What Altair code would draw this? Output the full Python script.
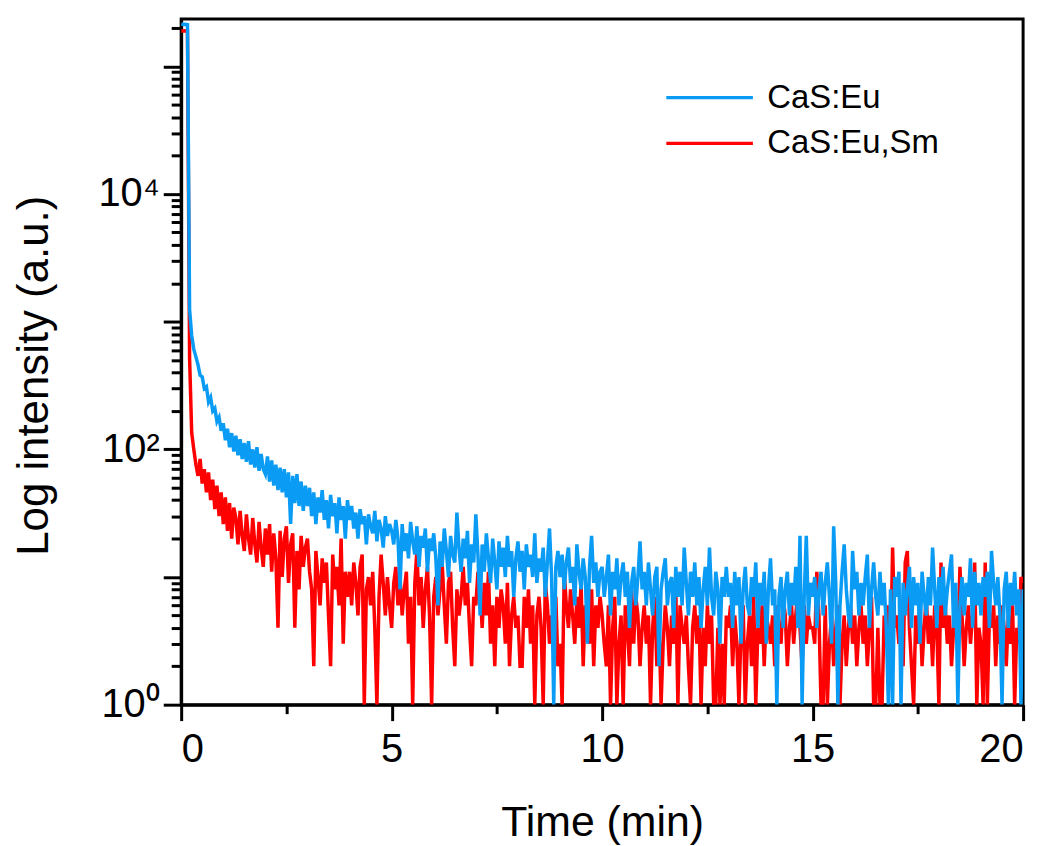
import altair as alt
import pandas as pd

STEP = 0.05  # minutes between samples

# CaS:Eu (blue) intensity counts, one row per minute of samples
blue = [
    215000, 213000, 214000, 212000, 1250, 780, 610, 530, 460, 380, 370, 300, 310, 235, 255, 200, 210, 165, 178, 140,
    160, 118, 145, 104, 134, 96, 128, 90, 120, 84, 112, 80, 116, 76, 100, 72, 104, 68, 92, 70,
    64, 88, 56, 82, 52, 76, 48, 72, 46, 70, 42, 66, 26, 62, 38, 64, 36, 56, 33, 52,
    36, 50, 30, 46, 26, 42, 32, 48, 28, 40, 24, 44, 30, 38, 22, 42, 28, 36, 20, 40,
    28, 36, 24, 32, 20, 34, 26, 30, 18, 31, 25, 22, 33, 19, 28, 24, 17, 30, 21, 26,
    23, 18, 28, 20, 8, 26, 16, 22, 14, 27, 19, 15, 25, 12, 21, 17, 24, 11, 20, 16,
    22, 14, 6, 19, 12, 24, 16, 10, 21, 15, 13, 32, 17, 11, 20, 14, 23, 9, 18, 13,
    31, 15, 5, 18, 11, 22, 14, 9, 20, 13, 8, 19, 12, 17, 10, 21, 12, 16, 7, 14,
    19, 11, 16, 8, 18, 12, 15, 10, 22, 9, 14, 11, 17, 7, 13, 24, 10, 1, 12, 16,
    10, 15, 8, 13, 17, 9, 12, 6, 18, 11, 8, 14, 10, 3, 12, 21, 9, 13, 7, 11,
    12, 7, 10, 15, 5, 11, 8, 14, 6, 10, 13, 7, 11, 4, 9, 12, 6, 10, 19, 8,
    11, 6, 13, 8, 5, 10, 12, 2, 8, 11, 14, 6, 9, 10, 4, 12, 7, 11, 6, 17,
    9, 5, 11, 7, 13, 6, 10, 4, 8, 12, 6, 17, 7, 5, 11, 8, 3, 10, 7, 12,
    7, 9, 4, 11, 6, 10, 3, 8, 12, 6, 5, 10, 7, 13, 4, 9, 6, 11, 3, 8,
    14, 6, 8, 1, 7, 10, 4, 8, 11, 5, 9, 6, 12, 4, 21, 1, 7, 21, 5, 9,
    7, 10, 4, 8, 11, 5, 9, 13, 7, 3, 25, 9, 1, 6, 11, 18, 8, 5, 4, 16,
    8, 11, 5, 9, 6, 10, 15, 4, 8, 13, 7, 5, 11, 6, 9, 4, 1, 8, 1, 10,
    7, 11, 1, 9, 5, 8, 12, 4, 10, 6, 9, 3, 11, 7, 5, 10, 6, 17, 8, 4,
    10, 6, 12, 5, 8, 11, 15, 4, 9, 1, 6, 10, 5, 9, 7, 14, 4, 11, 6, 9,
    5, 10, 7, 11, 4, 16, 9, 6, 10, 5, 1, 8, 11, 4, 9, 6, 11, 5, 8, 1,
    8,
]

# CaS:Eu,Sm (red) intensity counts
red = [
    190000, 189000, 190000, 188000, 520, 135, 100, 76, 62, 84, 54, 70, 46, 66, 40, 58, 34, 52, 30, 46,
    26, 42, 23, 38, 20, 35, 29, 18, 33, 21, 16, 31, 20, 15, 29, 18, 13, 27, 17, 12,
    24, 15, 26, 11, 22, 14, 4, 23, 10, 20, 25, 9, 18, 22, 4, 16, 8, 21, 12, 17,
    20, 11, 8, 2, 16, 10, 6, 14, 9, 13, 5, 2, 15, 8, 12, 6, 20, 3, 11, 7,
    11, 6, 13, 9, 5, 12, 15, 1, 8, 10, 6, 11, 4, 1, 7, 15, 9, 5, 10, 6,
    4, 9, 12, 6, 10, 5, 8, 11, 3, 7, 1, 9, 16, 6, 10, 4, 8, 12, 5, 1,
    7, 10, 5, 8, 13, 6, 3, 9, 11, 4, 2, 8, 5, 7, 12, 6, 9, 4, 2, 7,
    6, 11, 8, 4, 9, 5, 11, 3, 6, 2, 7, 4, 8, 6, 3, 9, 2, 5, 7, 4,
    5, 2, 2, 7, 4, 8, 3, 6, 1, 5, 7, 4, 1, 9, 6, 3, 5, 4, 7, 2,
    3, 1, 11, 6, 4, 8, 5, 3, 7, 4, 9, 2, 6, 5, 3, 8, 2, 6, 4, 7,
    5, 3, 2, 6, 1, 4, 7, 1, 3, 5, 1, 6, 4, 2, 8, 3, 7, 5, 2, 4,
    6, 3, 5, 1, 4, 7, 2, 5, 1, 3, 6, 4, 2, 5, 3, 8, 1, 6, 4, 3,
    5, 2, 1, 4, 6, 3, 5, 1, 4, 2, 6, 3, 5, 1, 1, 4, 1, 3, 1, 5,
    4, 6, 2, 5, 3, 1, 4, 6, 1, 3, 5, 2, 7, 1, 4, 3, 6, 2, 5, 4,
    3, 5, 2, 6, 4, 3, 7, 5, 2, 4, 6, 3, 5, 8, 4, 2, 6, 3, 5, 4,
    4, 3, 11, 5, 1, 1, 6, 1, 3, 5, 2, 4, 6, 1, 3, 5, 2, 4, 6, 3,
    5, 2, 4, 6, 3, 5, 2, 4, 7, 1, 1, 4, 1, 1, 5, 3, 6, 2, 17, 4,
    5, 3, 6, 2, 13, 16, 4, 2, 1, 5, 3, 6, 2, 4, 7, 3, 5, 2, 6, 4,
    1, 13, 4, 6, 3, 5, 2, 4, 6, 3, 12, 5, 2, 4, 6, 3, 5, 13, 1, 4,
    3, 1, 13, 1, 5, 4, 6, 2, 5, 3, 6, 4, 2, 5, 3, 6, 1, 4, 3, 10,
    9,
]

series_names = ["CaS:Eu", "CaS:Eu,Sm"]
series_colors = ["#0A9BF5", "#FF0000"]

x_major = [0, 5, 10, 15, 20]
x_minor = [2.5, 7.5, 12.5, 17.5]
y_major = [1, 10, 100, 1000, 10000, 100000]
y_minor = [m * d for d in [1, 10, 100, 1000, 10000, 100000] for m in range(2, 10) if m * d <= 200000]
y_labels = {1: "10⁰", 100: "10²", 10000: "10⁴"}

rows = []
for name, vals in zip(series_names, [blue, red]):
    for i, v in enumerate(vals):
        rows.append({"t": round(i * STEP, 2), "v": v, "s": name})
df = pd.DataFrame(rows)

FONT = "Liberation Sans"
label_expr = " : ".join(
    [f"datum.value == {k} ? '{v}'" for k, v in y_labels.items()]
) + " : ''"

xscale = alt.Scale(domain=[0, 20], nice=False, zero=False)
yscale = alt.Scale(type="log", domain=[1, 235000], nice=False)
cscale = alt.Scale(domain=series_names, range=series_colors)

# legend swatch: a horizontal line path (unit coords scaled by sqrt(size)/2)
legend = alt.Legend(
    title=None, orient="none", legendX=514, legendY=62,
    symbolType="M-2.9,0H2.9", symbolSize=900, symbolStrokeWidth=3.2,
    symbolFillColor="transparent",
    labelFont=FONT, labelFontSize=33, labelColor="black", labelOffset=41,
    labelLimit=400, rowPadding=12, padding=0,
)

base = alt.Chart(df)

red_layer = base.transform_filter(alt.datum.s == "CaS:Eu,Sm").mark_line(
    clip=True, strokeWidth=3.5, interpolate="linear"
).encode(
    x=alt.X("t:Q", scale=xscale, axis=alt.Axis(
        orient="bottom", values=x_major, format="d", title="Time (min)",
        tickSize=16, labelPadding=9, labelFontSize=40, labelFont=FONT,
        titleFont=FONT, titleFontSize=43, titleFontWeight="normal",
        titleY=131, titleBaseline="alphabetic", grid=False,
    )),
    y=alt.Y("v:Q", scale=yscale, axis=alt.Axis(
        orient="left", values=y_major, labelExpr=label_expr,
        title="Log intensity (a.u.)", tickSize=18, labelPadding=4,
        labelFontSize=40, labelFont=FONT, titleFont=FONT, titleFontSize=44,
        titleFontWeight="normal", titleX=-134, titleY=358,
        titleBaseline="alphabetic", grid=False,
    )),
    color=alt.Color("s:N", scale=cscale, legend=legend),
)

blue_layer = base.transform_filter(alt.datum.s == "CaS:Eu").mark_line(
    clip=True, strokeWidth=3.5, interpolate="linear"
).encode(
    x=alt.X("t:Q", scale=xscale, axis=alt.Axis(
        orient="bottom", values=x_minor, labels=False, title=None,
        tickSize=9, domain=False, grid=False,
    )),
    y=alt.Y("v:Q", scale=yscale, axis=alt.Axis(
        orient="left", values=y_minor, labels=False, title=None,
        tickSize=10, domain=False, grid=False,
    )),
    color=alt.Color("s:N", scale=cscale, legend=legend),
)

chart = alt.layer(red_layer, blue_layer).resolve_axis(
    x="independent", y="independent"
).properties(
    width=846, height=689,
    autosize=alt.AutoSizeParams(type="none"),
    padding={"left": 174, "top": 9, "right": 20, "bottom": 150},
).configure_axis(
    domainColor="black", domainWidth=3, tickColor="black", tickWidth=3,
    labelColor="black", titleColor="black",
).configure_view(
    stroke="black", strokeWidth=3,
)

chart.save("out.html", embed_options={"renderer": "svg", "actions": False})
